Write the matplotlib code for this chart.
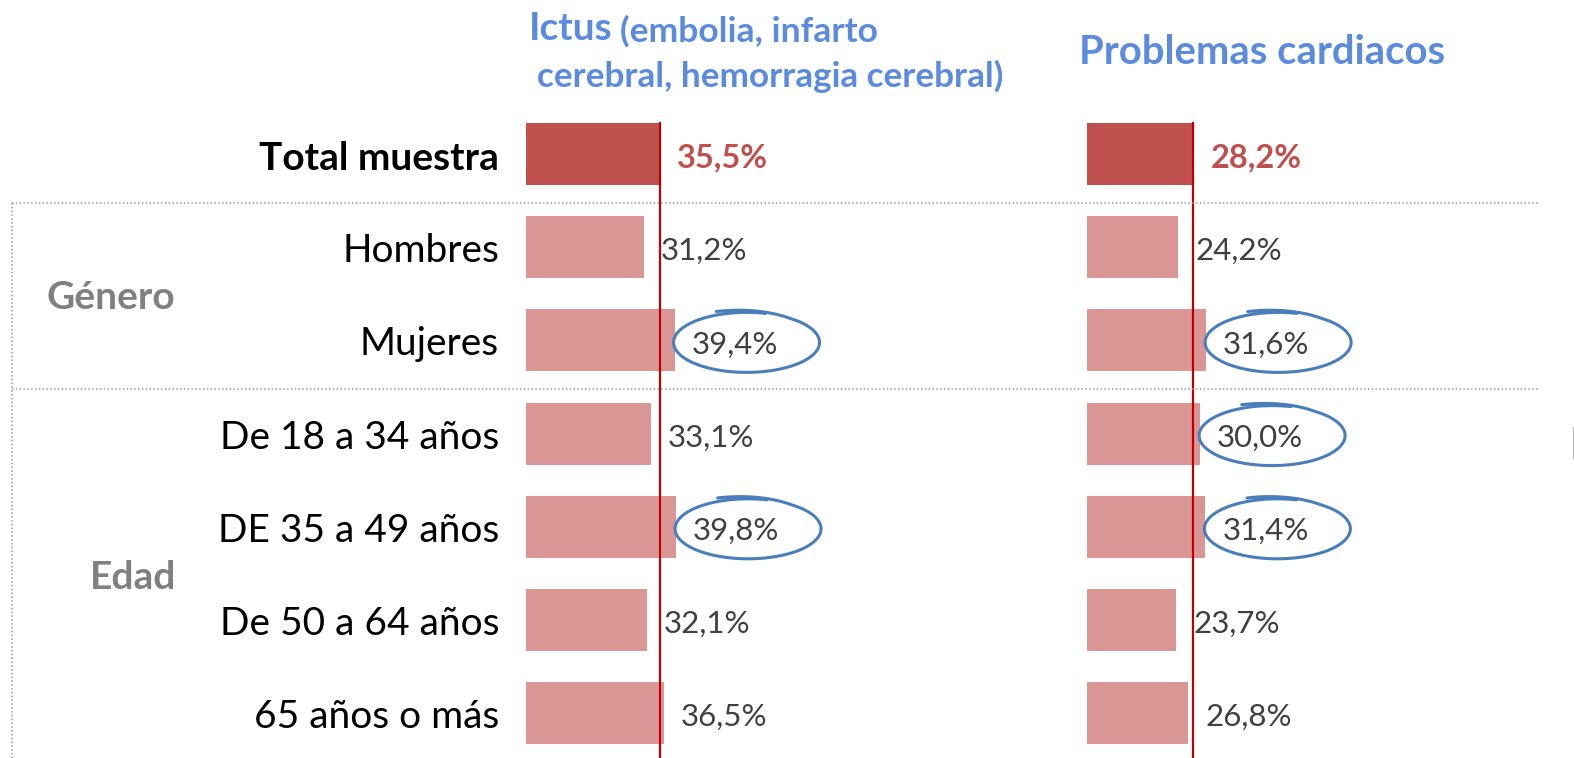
#!/usr/bin/env python3
# Ictus / problemas cardiacos por genero y edad: barras horizontales

import numpy as np
import matplotlib
matplotlib.use('Agg')
import matplotlib.pyplot as plt
import matplotlib.transforms as mtransforms
from matplotlib.lines import Line2D

plt.rcParams['font.family'] = ['Lato', 'DejaVu Sans']

CATEGORIES = ['Total muestra', 'Hombres', 'Mujeres', 'De 18 a 34 años',
              'DE 35 a 49 años', 'De 50 a 64 años', '65 años o más']
ICTUS = [35.5, 31.2, 39.4, 33.1, 39.8, 32.1, 36.5]
CARDIACOS = [28.2, 24.2, 31.6, 30.0, 31.4, 23.7, 26.8]
ICTUS_CIRCLED = [2, 4]
CARDIACOS_CIRCLED = [2, 3, 4]
GROUPS = ['Género', 'Edad']
GROUP_ROWS = [1.5, 4.5]

W, H = 1574, 758
PX_PER_PCT = 3.77
ROW_PX = 93.2
ROW0_PX = 154
TXT_DY = 4 / ROW_PX   # text sits a little below bar centre

DARK = '#C0504D'
LIGHT = '#D99694'
LINE_RED = '#C00000'
BLUE_TITLE = '#5B8BDF'
CIRCLE = '#4A7EBB'
TXT = '#404040'
GREY = '#808080'


def fx(px):
    return px / W


def make_panel(fig, left_px, right_px):
    ax = fig.add_axes([fx(left_px), 0, fx(right_px - left_px), 1])
    ax.set_xlim(0, (right_px - left_px) / PX_PER_PCT)
    ax.set_ylim((H - ROW0_PX) / ROW_PX, -ROW0_PX / ROW_PX)
    ax.axis('off')
    return ax


def draw_loop(ax, cx, cy, a, b):
    # hand-drawn looking ellipse with small overlapping tail
    t = np.radians(np.linspace(112, -285, 400))
    deg = np.degrees(t)
    s = 1 + 0.11 * np.clip((deg - 55) / 57, 0, 1)
    ax.plot(cx + a * np.cos(t) * s, cy - b * np.sin(t) * s,
            color=CIRCLE, lw=2.2, solid_capstyle='round', clip_on=False)


def draw_panel(ax, values, circled):
    y = np.arange(len(values))
    colors = [DARK] + [LIGHT] * (len(values) - 1)
    ax.barh(y, values, height=62 / ROW_PX, color=colors, align='center')
    tot = values[0]
    ylim = ax.get_ylim()
    ax.plot([tot, tot], [-31 / ROW_PX, ylim[0] - 1 / ROW_PX],
            color=LINE_RED, lw=1.6, clip_on=False)
    off = 17 / PX_PER_PCT
    for i, v in enumerate(values):
        lab = f'{v:.1f}%'.replace('.', ',')
        if i == 0:
            ax.text(v + off, i + TXT_DY, lab, ha='left', va='center',
                    fontsize=23.5, fontweight='bold', color=DARK)
        else:
            ax.text(v + off, i + TXT_DY, lab, ha='left', va='center',
                    fontsize=22.5, color=TXT)
        if i in circled:
            cx = v + off + 55 / PX_PER_PCT
            draw_loop(ax, cx, i + TXT_DY / 2, 73 / PX_PER_PCT, 30 / ROW_PX)


def main():
    fig = plt.figure(figsize=(W / 100, H / 100), dpi=100)
    ax1 = make_panel(fig, 526, 1080)
    ax2 = make_panel(fig, 1087, W)
    draw_panel(ax1, ICTUS, ICTUS_CIRCLED)
    draw_panel(ax2, CARDIACOS, CARDIACOS_CIRCLED)

    # category labels
    for i, c in enumerate(CATEGORIES):
        ax1.text(-27 / PX_PER_PCT, i + TXT_DY, c, ha='right', va='center',
                 fontsize=28, color='black',
                 fontweight='bold' if i == 0 else 'normal')

    # group labels + dotted separators
    tr = mtransforms.blended_transform_factory(fig.transFigure, ax1.transData)
    for g, r, x in zip(GROUPS, GROUP_ROWS, [111, 133]):
        ax1.text(fx(x), r + TXT_DY, g, transform=tr, ha='center',
                 va='center', fontsize=28, fontweight='bold', color=GREY)
    ybot = ax1.get_ylim()[0]
    for r in [0.53, 2.52]:
        fig.add_artist(Line2D([fx(12), fx(1540)], [r, r], transform=tr,
                              color='#999999', lw=1.1, ls=(0, (1, 1.5))))
    fig.add_artist(Line2D([fx(12), fx(12)], [0.53, ybot], transform=tr,
                          color='#999999', lw=1.1, ls=(0, (1, 1.5))))
    fig.add_artist(Line2D([fx(1573), fx(1573)], [1 - 427 / H, 1 - 458 / H],
                          transform=fig.transFigure, color='#bbbbbb', lw=0.8))

    # titles
    fig.text(fx(529), 1 - 29 / H, 'Ictus', ha='left', va='center',
             fontsize=28, fontweight='bold', color=BLUE_TITLE)
    fig.text(fx(620), 1 - 31 / H, '(embolia, infarto', ha='left',
             va='center', fontsize=25.5, fontweight='bold', color=BLUE_TITLE)
    fig.text(fx(537), 1 - 76 / H, 'cerebral, hemorragia cerebral)',
             ha='left', va='center', fontsize=25.3, fontweight='bold',
             color=BLUE_TITLE)
    fig.text(fx(1079), 1 - 52 / H, 'Problemas cardiacos', ha='left',
             va='center', fontsize=28.8, fontweight='bold', color=BLUE_TITLE)

    fig.savefig('out.png', dpi=100, facecolor='white')


if __name__ == '__main__':
    main()
